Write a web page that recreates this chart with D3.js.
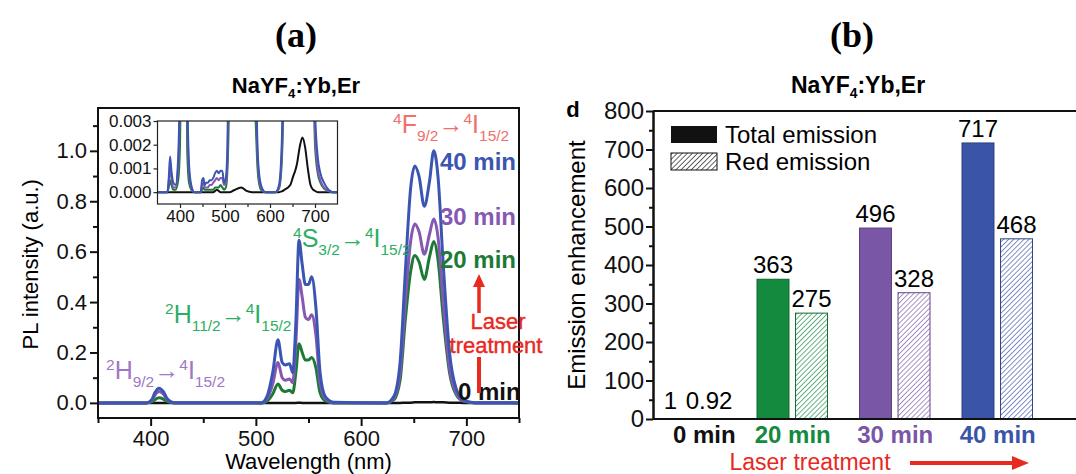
<html>
  <script src="https://d3js.org/d3.v7.min.js"></script>
  <body style="margin:0">
    <script>
      // ---- data (a): PL spectra ----
      let mainWl = [350, 396, 401, 404, 408, 412, 416, 422, 505, 511, 516, 521, 525, 528, 532, 535, 538, 541, 544, 547, 550, 553, 557, 561, 566, 574, 624, 631, 637, 642, 647, 651, 655, 660, 665, 669, 673, 678, 684, 690, 697, 708, 750];
      let pl0 = [0, 0, 0, 0, 0, 0, 0, 0, 0, 0, 0, 0, 0, 0, 0, 0, 0, 0.001, 0, 0, 0, 0, 0, 0, 0, 0, 0, 0, 0, 0.001, 0.001, 0.002, 0.002, 0.002, 0.002, 0.003, 0.002, 0.002, 0.001, 0.001, 0, 0, 0];
      let pl20 = [0, 0, 0.004, 0.013, 0.02, 0.015, 0.005, 0, 0, 0.008, 0.035, 0.075, 0.05, 0.045, 0.05, 0.04, 0.12, 0.235, 0.2, 0.17, 0.17, 0.18, 0.14, 0.04, 0.008, 0, 0, 0.012, 0.09, 0.33, 0.52, 0.585, 0.56, 0.49, 0.58, 0.64, 0.57, 0.34, 0.12, 0.035, 0.007, 0, 0];
      let pl30 = [0, 0, 0.009, 0.03, 0.045, 0.035, 0.011, 0.001, 0, 0.02, 0.075, 0.16, 0.1, 0.09, 0.095, 0.08, 0.24, 0.49, 0.42, 0.34, 0.33, 0.35, 0.27, 0.08, 0.017, 0.001, 0, 0.018, 0.12, 0.4, 0.64, 0.71, 0.68, 0.59, 0.67, 0.73, 0.66, 0.4, 0.14, 0.042, 0.008, 0.001, 0];
      let pl40 = [0, 0, 0.012, 0.04, 0.058, 0.045, 0.015, 0.001, 0, 0.03, 0.12, 0.25, 0.16, 0.15, 0.155, 0.12, 0.32, 0.645, 0.55, 0.47, 0.47, 0.5, 0.38, 0.12, 0.025, 0.002, 0, 0.025, 0.16, 0.52, 0.85, 0.94, 0.9, 0.78, 0.88, 1.0, 0.9, 0.55, 0.2, 0.06, 0.012, 0.001, 0];

      // inset (zoomed low-intensity view)
      let insetWl = [350, 372, 375, 378, 381, 385, 390, 396, 400, 408, 416, 420, 425, 432, 446, 449, 452, 455, 458, 462, 466, 470, 474, 478, 482, 486, 490, 494, 498, 502, 506, 510, 520, 536, 548, 560, 566, 570, 574, 580, 590, 612, 620, 626, 632, 645, 652, 656, 660, 666, 672, 678, 684, 690, 696, 700, 706, 712, 720, 730, 740, 750];
      let in0 = [0, 0, 0, 0, 0, 0, 0, 0, 0, 0, 0, 0, 0, 0, 0, 0, 0, 0, 0, 0, 0, 0, 0, 0.00005, 0.0001, 0.00005, 0, 0, 0, 0, 0, 0, 0.00008, 0.0002, 0.00005, 0, 0, 0, 0, 0, 0, 0, 0, 0.00003, 0.0001, 0.0003, 0.0007, 0.0009, 0.0012, 0.0019, 0.0023, 0.0019, 0.001, 0.0003, 0.0001, 0.00005, 0, 0, 0, 0, 0, 0];
      let in20 = [0, 0, 0.0002, 0.0005, 0.0003, 0.0001, 0.0001, 0.0005, 0.002, 0.02, 0.0018, 0.0004, 0.0001, 0, 0, 0.0001, 0.0002, 0.0001, 0.0001, 0.0001, 0.0001, 0.0001, 0.0001, 0.0002, 0.0002, 0.0002, 0.0003, 0.0002, 0.0001, 0.0002, 0.0012, 0.006, 0.075, 0.1, 0.18, 0.04, 0.005, 0.002, 0.0006, 0.0001, 0, 0, 0.00015, 0.0012, 0.007, 0.43, 0.58, 0.55, 0.49, 0.6, 0.6, 0.34, 0.12, 0.035, 0.008, 0.002, 0.0008, 0.0004, 0.00015, 0.00005, 0, 0];
      let in30 = [0, 0, 0.0004, 0.001, 0.0006, 0.0002, 0.0002, 0.0011, 0.0045, 0.045, 0.0038, 0.0009, 0.0002, 0, 0, 0.0003, 0.0004, 0.0002, 0.0002, 0.0002, 0.0003, 0.0003, 0.0004, 0.0005, 0.0006, 0.0005, 0.0006, 0.0006, 0.0003, 0.0004, 0.0018, 0.01, 0.17, 0.22, 0.34, 0.08, 0.008, 0.003, 0.0009, 0.0002, 0, 0, 0.0002, 0.0015, 0.009, 0.52, 0.7, 0.66, 0.59, 0.68, 0.7, 0.4, 0.14, 0.04, 0.009, 0.0025, 0.001, 0.0005, 0.0002, 0.00005, 0, 0];
      let in40 = [0, 0, 0.0006, 0.0015, 0.0009, 0.0004, 0.0003, 0.0015, 0.006, 0.058, 0.005, 0.0012, 0.0003, 0, 0, 0.0005, 0.0006, 0.0003, 0.0004, 0.0004, 0.0005, 0.0005, 0.0006, 0.0008, 0.0009, 0.0008, 0.0009, 0.0009, 0.0004, 0.0006, 0.0025, 0.015, 0.25, 0.3, 0.47, 0.12, 0.012, 0.004, 0.0012, 0.0003, 0, 0, 0.0003, 0.002, 0.012, 0.7, 0.93, 0.88, 0.78, 0.92, 0.95, 0.55, 0.2, 0.05, 0.012, 0.0035, 0.0015, 0.0008, 0.0004, 0.0001, 0, 0];

      let plTicks = [0, 0.2, 0.4, 0.6, 0.8, 1.0];
      let wlTicks = [400, 500, 600, 700];
      let insetYTicks = [0, 0.001, 0.002, 0.003];

      // ---- data (b): enhancement factors ----
      let times = ["0 min", "20 min", "30 min", "40 min"];
      let totalEnh = [1, 363, 496, 717];
      let redEnh = [0.92, 275, 328, 468];
      let enhLabels = ["1", "363", "496", "717"];
      let redLabels = ["0.92", "275", "328", "468"];
      let enhTicks = [0, 100, 200, 300, 400, 500, 600, 700, 800];

      // ---- styles ----
      let lineColors = ["#111111", "#1d7a34", "#8658b2", "#3b55b3"];
      let barColors = ["#111111", "#138a3d", "#7a56a6", "#3a55a7"];
      let font = "'Liberation Sans', Arial, sans-serif";
      let red = "#e8291f";

      let width = 1076, height = 474;
      let svg = d3.select("body").append("svg")
                  .attr("width", width)
                  .attr("height", height)
                  .style("font-family", font)
                  .style("background", "white");

      // panel letters
      svg.append("text").attr("x", 296).attr("y", 47).attr("text-anchor", "middle")
         .style("font-family", "'Liberation Serif', 'Times New Roman', serif")
         .style("font-weight", "bold").style("font-size", "36px").text("(a)");
      svg.append("text").attr("x", 852).attr("y", 47).attr("text-anchor", "middle")
         .style("font-family", "'Liberation Serif', 'Times New Roman', serif")
         .style("font-weight", "bold").style("font-size", "36px").text("(b)");

      function title(x, y, size) {
        let t = svg.append("text").attr("x", x).attr("y", y).attr("text-anchor", "middle")
                   .style("font-weight", "bold").style("font-size", size + "px");
        t.append("tspan").text("NaYF");
        t.append("tspan").attr("dy", 5).style("font-size", (size * 0.6) + "px").text("4");
        t.append("tspan").attr("dy", -5).text(":Yb,Er");
      }

      // label with superscripts (^) and subscripts (_)
      function specLabel(g, x, y, parts, color, size) {
        let t = g.append("text").attr("x", x).attr("y", y).attr("fill", color)
                 .style("font-size", size + "px");
        parts.forEach(p => {
          let s = t.append("tspan").text(p[1]);
          if (p[0] == "^") s.attr("y", y - size * 0.38).style("font-size", (size * 0.62) + "px");
          else if (p[0] == "_") s.attr("y", y + size * 0.3).style("font-size", (size * 0.62) + "px");
          else s.attr("y", y);
        });
      }

      // ================= panel (a) =================
      let xA = d3.scaleLinear().domain([350, 750]).range([98, 519]);
      let yA = d3.scaleLinear().domain([-0.06, 1.17]).range([418, 108]);
      let gA = svg.append("g");

      title(296, 93, 22);

      let lineA = d3.line().x((d, i) => xA(mainWl[i])).y(d => yA(d)).curve(d3.curveMonotoneX);
      [pl0, pl20, pl30, pl40].forEach((s, k) => {
        gA.append("path").attr("d", lineA(s)).attr("fill", "none")
          .attr("stroke", lineColors[k]).attr("stroke-width", k == 0 ? 2.5 : 3)
          .attr("stroke-linejoin", "round");
      });

      // frame
      gA.append("rect").attr("x", xA(350)).attr("y", yA(1.17))
        .attr("width", xA(750) - xA(350)).attr("height", yA(-0.06) - yA(1.17))
        .attr("fill", "none").attr("stroke", "#111").attr("stroke-width", 2);

      gA.append("g").attr("transform", `translate(${xA(350)},0)`)
        .call(d3.axisLeft(yA).tickValues(plTicks).tickFormat(d3.format(".1f")).tickSize(8).tickPadding(3).tickSizeOuter(0));
      gA.append("g").attr("transform", `translate(${xA(350)},0)`)
        .call(d3.axisLeft(yA).tickValues([0.1, 0.3, 0.5, 0.7, 0.9, 1.1]).tickFormat("").tickSize(5).tickSizeOuter(0));
      gA.append("g").attr("transform", `translate(0,${yA(-0.06)})`)
        .call(d3.axisBottom(xA).tickValues(wlTicks).tickSize(8).tickPadding(4).tickSizeOuter(0));
      gA.append("g").attr("transform", `translate(0,${yA(-0.06)})`)
        .call(d3.axisBottom(xA).tickValues([350, 450, 550, 650, 750]).tickFormat("").tickSize(5).tickSizeOuter(0));
      gA.selectAll(".domain").remove();
      gA.selectAll(".tick line").attr("stroke", "#111").attr("stroke-width", 2);
      gA.selectAll(".tick text").style("font-size", "22px").style("font-family", font).attr("fill", "#111");

      svg.append("text").attr("x", xA(550)).attr("y", 469).attr("text-anchor", "middle")
         .style("font-size", "22px").text("Wavelength (nm)");
      svg.append("text").attr("transform", `translate(38,${yA(0.55)}) rotate(-90)`)
         .attr("text-anchor", "middle").style("font-size", "22px").text("PL intensity (a.u.)");

      // inset
      let xI = d3.scaleLinear().domain([350, 750]).range([157.5, 337.5]);
      let yI = d3.scaleLinear().domain([-0.0005, 0.003]).range([204, 121]);
      let gI = svg.append("g");
      gI.append("rect").attr("x", xI(350)).attr("y", yI(0.003))
        .attr("width", xI(750) - xI(350)).attr("height", yI(-0.0005) - yI(0.003)).attr("fill", "white");
      svg.append("clipPath").attr("id", "clipI").append("rect")
        .attr("x", xI(350)).attr("y", yI(0.003))
        .attr("width", xI(750) - xI(350)).attr("height", yI(-0.0005) - yI(0.003));
      let lineI = d3.line().x((d, i) => xI(insetWl[i])).y(d => yI(d)).curve(d3.curveMonotoneX);
      let gIc = gI.append("g").attr("clip-path", "url(#clipI)");
      [in0, in20, in30, in40].forEach((s, k) => {
        gIc.append("path").attr("d", lineI(s)).attr("fill", "none")
           .attr("stroke", lineColors[k]).attr("stroke-width", 2).attr("stroke-linejoin", "round");
      });
      gI.append("rect").attr("x", xI(350)).attr("y", yI(0.003))
        .attr("width", xI(750) - xI(350)).attr("height", yI(-0.0005) - yI(0.003))
        .attr("fill", "none").attr("stroke", "#222").attr("stroke-width", 1.2);
      gI.append("g").attr("transform", `translate(${xI(350)},0)`)
        .call(d3.axisLeft(yI).tickValues(insetYTicks).tickFormat(d3.format(".3f")).tickSize(4).tickPadding(2).tickSizeOuter(0));
      gI.append("g").attr("transform", `translate(0,${yI(-0.0005)})`)
        .call(d3.axisBottom(xI).tickValues(wlTicks).tickSize(4).tickPadding(2).tickSizeOuter(0));
      gI.append("g").attr("transform", `translate(0,${yI(-0.0005)})`)
        .call(d3.axisBottom(xI).tickValues([450, 550, 650]).tickFormat("").tickSize(3).tickSizeOuter(0));
      gI.selectAll(".domain").remove();
      gI.selectAll(".tick line").attr("stroke", "#222").attr("stroke-width", 1.2);
      gI.selectAll(".tick text").style("font-size", "17px").style("font-family", font).attr("fill", "#111");

      // transition labels
      specLabel(gA, 393, 133, [["^", "4"], ["", "F"], ["_", "9/2"], ["", "\u2192"], ["^", "4"], ["", "I"], ["_", "15/2"]], "#f0706c", 25);
      specLabel(gA, 293, 247, [["^", "4"], ["", "S"], ["_", "3/2"], ["", "\u2192"], ["^", "4"], ["", "I"], ["_", "15/2"]], "#2bae64", 25);
      specLabel(gA, 165, 323, [["^", "2"], ["", "H"], ["_", "11/2"], ["", "\u2192"], ["^", "4"], ["", "I"], ["_", "15/2"]], "#2bae64", 25);
      specLabel(gA, 106, 379, [["^", "2"], ["", "H"], ["_", "9/2"], ["", "\u2192"], ["^", "4"], ["", "I"], ["_", "15/2"]], "#a077c8", 25);

      // time labels
      let timeY = [400, 268, 225, 170];
      times.forEach((t, k) => {
        gA.append("text").attr("x", k == 0 ? 458 : 440).attr("y", timeY[k])
          .attr("fill", lineColors[k]).style("font-weight", "bold").style("font-size", "24px").text(t);
      });
      // laser treatment arrow
      gA.append("line").attr("x1", 479).attr("x2", 479).attr("y1", 357).attr("y2", 393)
        .attr("stroke", red).attr("stroke-width", 4);
      gA.append("line").attr("x1", 479).attr("x2", 479).attr("y1", 313).attr("y2", 285)
        .attr("stroke", red).attr("stroke-width", 3.5);
      gA.append("path").attr("d", "M473,287 L479,274 L485,287 Z").attr("fill", red);
      gA.append("text").attr("x", 498).attr("y", 329).attr("text-anchor", "middle").attr("fill", red)
        .style("font-size", "22px").style("stroke", red).style("stroke-width", 0.4).text("Laser");
      gA.append("text").attr("x", 496).attr("y", 353).attr("text-anchor", "middle").attr("fill", red)
        .style("font-size", "22px").style("stroke", red).style("stroke-width", 0.4).text("treatment");

      // ================= panel (b) =================
      let yB = d3.scaleLinear().domain([0, 800]).range([419, 111]);
      let xB = d3.scaleBand().domain(times).range([639, 1049]);
      let xSub = d3.scaleBand().domain(["total", "red"]).range([15.5, 86]).paddingInner(0.17);
      let gB = svg.append("g");

      title(858, 93, 23);

      let defs = svg.append("defs");
      barColors.forEach((c, k) => {
        let p = defs.append("pattern").attr("id", "hatch" + k).attr("patternUnits", "userSpaceOnUse")
          .attr("width", 3.6).attr("height", 3.6).attr("patternTransform", "rotate(45)");
        p.append("rect").attr("width", 3.6).attr("height", 3.6).attr("fill", "white");
        p.append("line").attr("x1", 0).attr("y1", 0).attr("x2", 0).attr("y2", 3.6)
          .attr("stroke", c).attr("stroke-width", 1.3);
      });

      times.forEach((t, k) => {
        let x0 = xB(t);
        gB.append("rect").attr("x", x0 + xSub("total")).attr("y", yB(totalEnh[k]))
          .attr("width", xSub.bandwidth()).attr("height", yB(0) - yB(totalEnh[k]))
          .attr("fill", barColors[k]).attr("stroke", d3.color(barColors[k]).darker(0.8)).attr("stroke-width", 1);
        gB.append("rect").attr("x", x0 + xSub("red")).attr("y", yB(redEnh[k]))
          .attr("width", xSub.bandwidth()).attr("height", yB(0) - yB(redEnh[k]))
          .attr("fill", `url(#hatch${k})`).attr("stroke", d3.color(barColors[k]).darker(0.6)).attr("stroke-width", 1);
        gB.append("text").attr("x", x0 + xSub("total") + xSub.bandwidth() / 2).attr("y", yB(totalEnh[k]) - (k == 0 ? 10 : 6))
          .attr("text-anchor", "middle").style("font-size", "24px").text(enhLabels[k]);
        gB.append("text").attr("x", x0 + xSub("red") + xSub.bandwidth() / 2).attr("y", yB(redEnh[k]) - (k == 0 ? 10 : 6))
          .attr("text-anchor", "middle").style("font-size", "24px").text(redLabels[k]);
        gB.append("text").attr("x", x0 + xB.bandwidth() / 2 + (k == 0 ? 14 : 0)).attr("y", 443)
          .attr("text-anchor", "middle").attr("fill", barColors[k])
          .style("font-weight", "bold").style("font-size", "24px").text(t);
      });

      // axes
      gB.append("line").attr("x1", 653).attr("x2", width).attr("y1", yB(0)).attr("y2", yB(0))
        .attr("stroke", "#111").attr("stroke-width", 2);
      gB.append("line").attr("x1", 653).attr("x2", width).attr("y1", yB(800)).attr("y2", yB(800))
        .attr("stroke", "#111").attr("stroke-width", 2);
      let axB = gB.append("g").attr("transform", "translate(653,0)");
      axB.call(d3.axisLeft(yB).tickValues(enhTicks).tickSize(7).tickPadding(2).tickSizeOuter(0));
      gB.append("g").attr("transform", "translate(653,0)")
        .call(d3.axisLeft(yB).tickValues(d3.range(50, 800, 100)).tickFormat("").tickSize(4).tickSizeOuter(0));
      gB.selectAll(".domain").attr("stroke", "#111").attr("stroke-width", 2);
      gB.selectAll(".tick line").attr("stroke", "#111").attr("stroke-width", 2);
      axB.selectAll(".tick text").style("font-size", "24px").style("font-family", font).attr("fill", "#111");

      svg.append("text").attr("transform", `translate(585,${yB(400)}) rotate(-90)`)
        .attr("text-anchor", "middle").style("font-size", "24px").text("Emission enhancement");
      svg.append("text").attr("x", 573).attr("y", 117).attr("text-anchor", "middle")
        .style("font-weight", "bold").style("font-size", "22px").text("d");

      // legend
      gB.append("rect").attr("x", 671).attr("y", 126).attr("width", 46).attr("height", 17).attr("fill", "#111");
      gB.append("rect").attr("x", 671).attr("y", 153).attr("width", 46).attr("height", 17)
        .attr("fill", "url(#hatch0)").attr("stroke", "#111").attr("stroke-width", 1);
      gB.append("text").attr("x", 725).attr("y", 143).style("font-size", "24px").text("Total emission");
      gB.append("text").attr("x", 725).attr("y", 170).style("font-size", "24px").text("Red emission");

      // laser treatment
      svg.append("text").attr("x", 810).attr("y", 470).attr("text-anchor", "middle").attr("fill", red)
        .style("font-size", "23px").text("Laser treatment");
      svg.append("line").attr("x1", 910).attr("x2", 1014).attr("y1", 463).attr("y2", 463)
        .attr("stroke", red).attr("stroke-width", 4);
      svg.append("path").attr("d", "M1012,456 L1029,463 L1012,470 Z").attr("fill", red);
    </script>
  </body>
</html>
